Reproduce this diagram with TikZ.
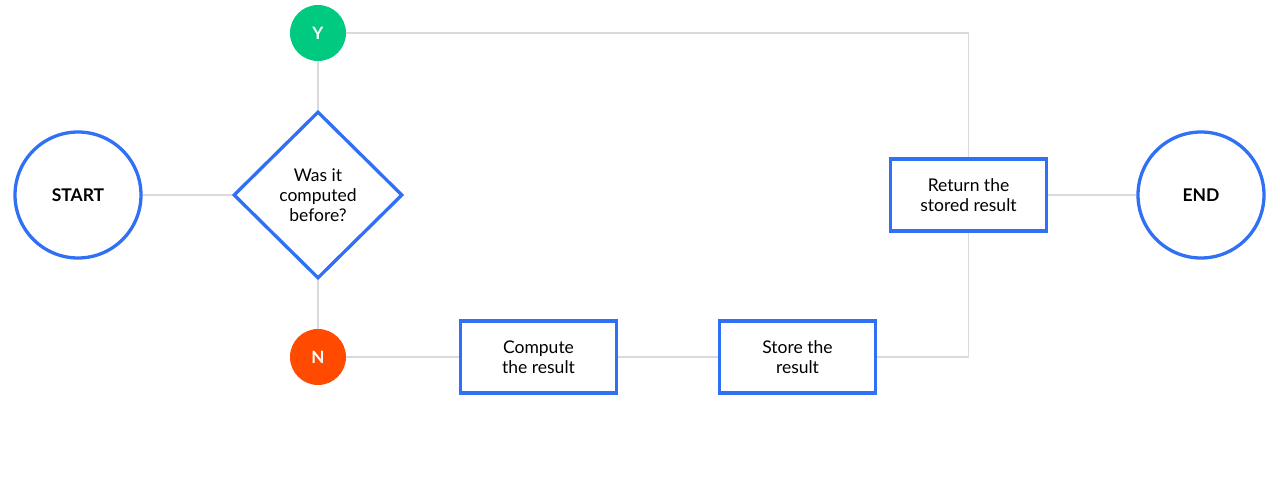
\documentclass[tikz,border=0pt]{standalone}
\usepackage{fontspec}
\setmainfont{Lato}
\usepackage{tikz}
\usetikzlibrary{shapes.geometric,positioning,calc}
\definecolor{myblue}{RGB}{47,112,245}
\definecolor{mygreen}{RGB}{0,201,128}
\definecolor{myorange}{RGB}{255,74,0}
\definecolor{mygray}{RGB}{218,218,222}

\begin{document}
\begin{tikzpicture}[
  x=1pt,y=-1pt,
  font=\fontsize{17.5}{20}\selectfont,
  myline/.style={draw=mygray, line width=1.3pt},
  mycircle/.style={
    draw=myblue,
    line width=3.3pt,
    circle,
    minimum size=126pt,
    font=\fontsize{17.5}{20}\selectfont\bfseries
    },
  mydot/.style={
    circle,
    minimum size=56pt,
    inner sep=0pt,
    text=white,
    font=\fontsize{17}{20}\selectfont\bfseries
    },
  myrect/.style={
    draw=myblue,
    line width=3.3pt,
    rectangle,
    minimum width=156pt,
    minimum height=72pt,
    align=center
    },
  mydiamond/.style={
    draw=myblue,
    line width=3.3pt,
    diamond,
    minimum width=169pt,
    minimum height=167pt,
    inner sep=0pt,
    align=center
    }
]
\useasboundingbox (0,0) rectangle (1280,495);

\node [mycircle] (start) at (78,195) {START};
\node [mydiamond] (check) at (318,195) {Was it\\computed\\before?};
\node [mydot, fill=mygreen] (yes) at (318,33) {Y};
\node [mydot, fill=myorange] (no) at (318,357) {N};
\node [myrect] (compute) at (538.5,357) {Compute\\the result};
\node [myrect] (store) at (797.5,357) {Store the\\result};
\node [myrect] (return) at (968.5,195) {Return the\\stored result};
\node [mycircle] (end) at (1201,195) {END};

% connectors
\draw [myline] (start) -- (check);
\draw [myline] (check) -- (yes);
\draw [myline] (check) -- (no);
\draw [myline] (no) -- (compute);
\draw [myline] (compute) -- (store);
\draw [myline] (yes) -| (return.north);
\draw [myline] (return.south) |- (store.east);
\draw [myline] (return) -- (end);

\end{tikzpicture}
\end{document}
